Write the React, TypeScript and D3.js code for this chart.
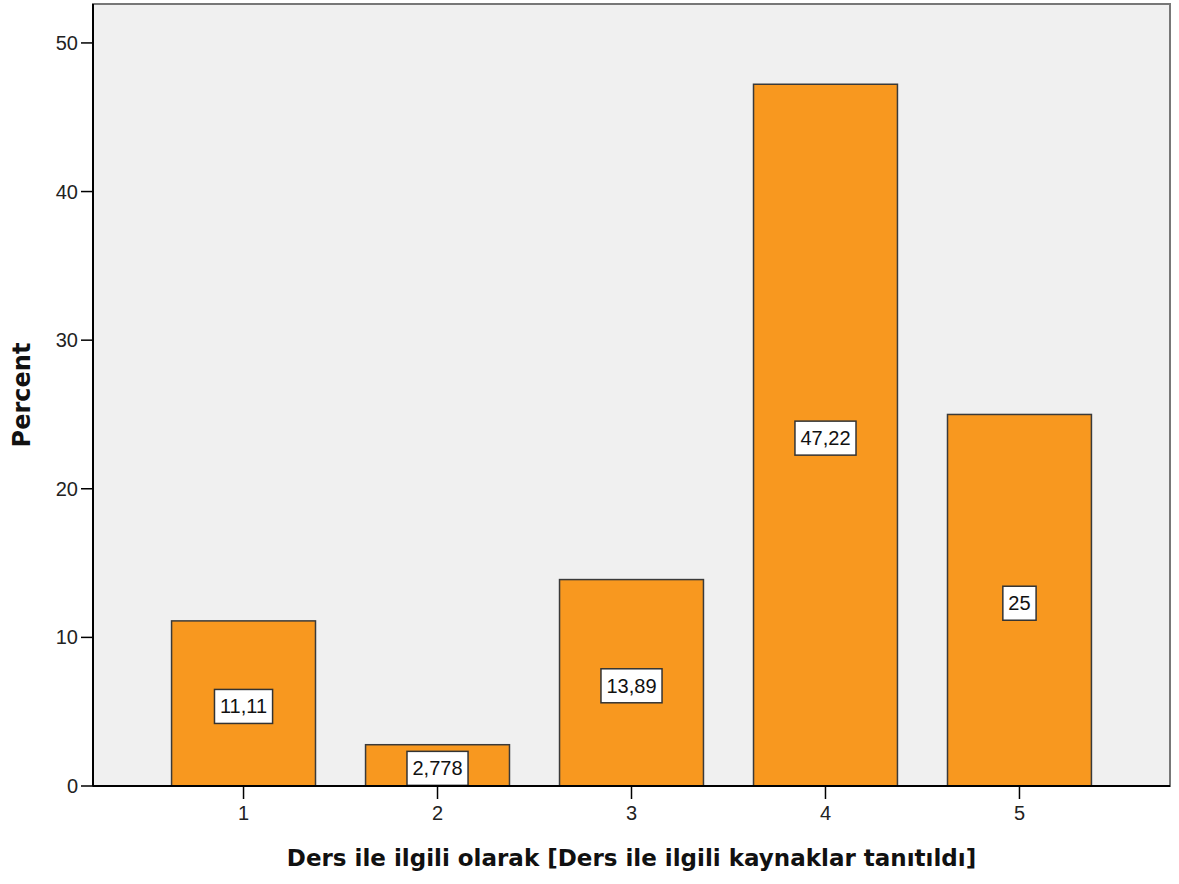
import { useEffect, useRef } from "react"
import * as d3 from "d3"

// Chart data
const categories = ["1", "2", "3", "4", "5"]
const percents = [11.11, 2.778, 13.89, 47.22, 25]
const valueLabels = ["11,11", "2,778", "13,89", "47,22", "25"]
const yTicks = [0, 10, 20, 30, 40, 50]

export default function App() {
  const svgRef = useRef<SVGSVGElement>(null)

  useEffect(() => {
    if (!svgRef.current) return
    const width = 1179
    const height = 884
    const plot = { left: 93, right: 1170, top: 4, bottom: 786 }

    const svg = d3.select(svgRef.current)
    svg.selectAll("*").remove()
    svg.attr("width", width).attr("height", height)

    const font = "Arial, 'Liberation Sans', sans-serif"
    const titleFont = "'DejaVu Sans', Verdana, sans-serif"

    const x = d3
      .scaleBand()
      .domain(categories)
      .range([plot.left, plot.right])
      .paddingInner(0.258)
      .paddingOuter(0.405)
    const y = d3.scaleLinear().domain([0, 52.62]).range([plot.bottom, plot.top])

    // plot background + frame
    svg
      .append("rect")
      .attr("x", plot.left)
      .attr("y", plot.top)
      .attr("width", plot.right - plot.left)
      .attr("height", plot.bottom - plot.top)
      .style("fill", "#f0f0f0")
      .style("stroke", "#777")
      .style("stroke-width", 2)

    const data = categories.map((c, i) => ({ c, v: percents[i], label: valueLabels[i] }))

    // bars
    svg
      .selectAll("rect.bar")
      .data(data)
      .join("rect")
      .attr("class", "bar")
      .attr("x", (d) => x(d.c) || 0)
      .attr("y", (d) => y(d.v))
      .attr("width", x.bandwidth())
      .attr("height", (d) => y(0) - y(d.v))
      .style("fill", "#f8981f")
      .style("stroke", "#3a3a3a")
      .style("stroke-width", 1.5)

    // value labels
    const lab = svg
      .selectAll("g.lab")
      .data(data)
      .join("g")
      .attr("class", "lab")
      .attr("transform", (d) => `translate(${(x(d.c) || 0) + x.bandwidth() / 2},${(y(d.v) + y(0)) / 2 + 3})`)
    lab
      .append("text")
      .attr("text-anchor", "middle")
      .attr("dominant-baseline", "central")
      .style("font-family", font)
      .style("font-size", "20px")
      .style("fill", "#111")
      .text((d) => d.label)
    lab.each(function () {
      const g = d3.select(this)
      const t = g.select<SVGTextElement>("text").node()!
      const w = t.getComputedTextLength()
      g.insert("rect", "text")
        .attr("x", -w / 2 - 5.5)
        .attr("y", -17)
        .attr("width", w + 11)
        .attr("height", 34)
        .style("fill", "white")
        .style("stroke", "#333")
        .style("stroke-width", 1.5)
    })

    // axes
    svg
      .append("line")
      .attr("x1", plot.left)
      .attr("x2", plot.left)
      .attr("y1", plot.top)
      .attr("y2", plot.bottom)
      .style("stroke", "#000")
      .style("stroke-width", 2)
    svg
      .append("line")
      .attr("x1", plot.left)
      .attr("x2", plot.right)
      .attr("y1", plot.bottom)
      .attr("y2", plot.bottom)
      .style("stroke", "#000")
      .style("stroke-width", 2)

    const yAxis = svg.append("g")
    yTicks.forEach((t) => {
      yAxis
        .append("line")
        .attr("x1", plot.left - 12)
        .attr("x2", plot.left)
        .attr("y1", y(t))
        .attr("y2", y(t))
        .style("stroke", "#000")
        .style("stroke-width", 1.5)
      yAxis
        .append("text")
        .attr("x", plot.left - 15)
        .attr("y", y(t))
        .attr("text-anchor", "end")
        .attr("dominant-baseline", "central")
        .style("font-family", font)
        .style("font-size", "20px")
        .style("fill", "#222")
        .text(t)
    })

    const xAxis = svg.append("g")
    categories.forEach((c) => {
      const cx = (x(c) || 0) + x.bandwidth() / 2
      xAxis
        .append("line")
        .attr("x1", cx)
        .attr("x2", cx)
        .attr("y1", plot.bottom)
        .attr("y2", plot.bottom + 13)
        .style("stroke", "#000")
        .style("stroke-width", 1.5)
      xAxis
        .append("text")
        .attr("x", cx)
        .attr("y", plot.bottom + 27)
        .attr("text-anchor", "middle")
        .attr("dominant-baseline", "central")
        .style("font-family", font)
        .style("font-size", "20px")
        .style("fill", "#222")
        .text(c)
    })

    // axis titles
    svg
      .append("text")
      .attr("transform", `translate(22,${(plot.top + plot.bottom) / 2}) rotate(-90)`)
      .attr("text-anchor", "middle")
      .attr("dominant-baseline", "central")
      .style("font-family", titleFont)
      .style("font-size", "24px")
      .style("font-weight", "bold")
      .style("fill", "#111")
      .text("Percent")
    svg
      .append("text")
      .attr("x", (plot.left + plot.right) / 2)
      .attr("y", 858)
      .attr("text-anchor", "middle")
      .attr("dominant-baseline", "central")
      .style("font-family", titleFont)
      .style("font-size", "23px")
      .style("font-weight", "bold")
      .style("fill", "#111")
      .text("Ders ile ilgili olarak [Ders ile ilgili kaynaklar tanıtıldı]")
  }, [])

  return (
    <div style={{ position: "absolute", left: 0, top: 0 }}>
      <svg ref={svgRef} style={{ display: "block" }}></svg>
    </div>
  )
}
